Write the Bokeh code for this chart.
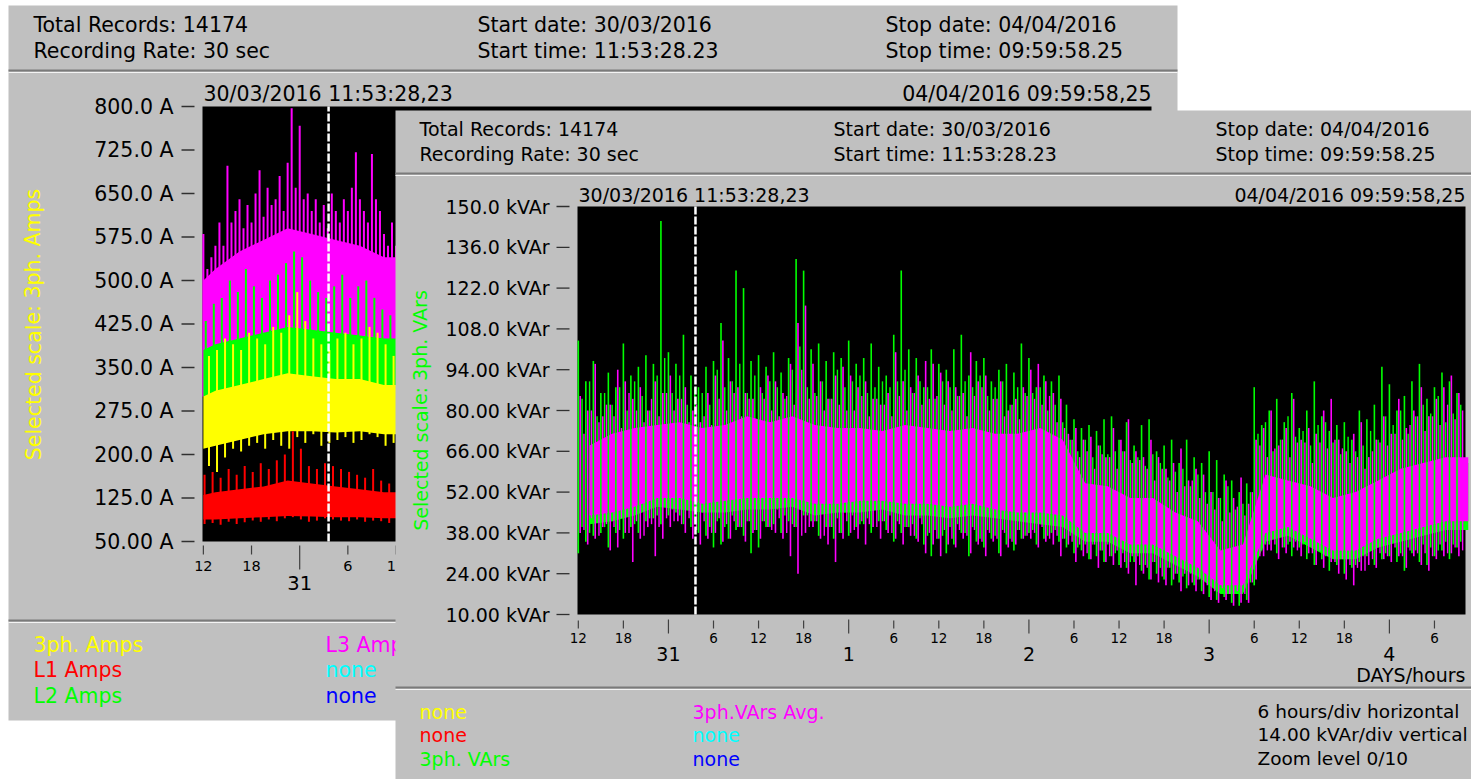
from bokeh.plotting import figure
from bokeh.models import Range1d, ColumnDataSource
from bokeh.core.properties import value
from bokeh.embed import file_html
from bokeh.resources import INLINE

# ------------------------------------------------------------------ data
# time axis: hours counted from 30/03/2016 00:00
T_START = 11 + 53 / 60 + 28.23 / 3600        # 30/03/2016 11:53:28,23
T_STOP = 5 * 24 + 9 + 59 / 60 + 58.25 / 3600  # 04/04/2016 09:59:58,25
CURSOR_T = 27.6                               # cursor position (31/03 ~03:36)

# ---- right window: 3ph. VArs (green) and 3ph.VArs Avg. (magenta), kVAr
# min/max read at each full hour (A) and each half hour (B)
R_HOURS = list(range(12, 130))
R_GREEN_HI = [104, 90, 97, 86, 93, 88, 103, 92, 95, 99, 96, 145,
              100, 96, 106, 92, 88, 95, 97, 110, 98, 128, 122, 97,
              99, 95, 100, 93, 98, 132, 128, 101, 103, 97, 100, 98,
              104, 96, 98, 103, 95, 92, 106, 128, 101, 98, 88, 101,
              96, 94, 101, 106, 92, 97, 98, 90, 94, 96, 93, 103,
              98, 88, 92, 90, 92, 82, 77, 74, 75, 73, 77, 78,
              70, 76, 68, 75, 77, 66, 68, 70, 62, 70, 64, 62,
              66, 63, 58, 56, 52, 55, 88, 75, 80, 84, 76, 86,
              74, 80, 90, 78, 73, 75, 76, 70, 80, 77, 82, 95,
              89, 80, 85, 90, 96, 84, 88, 93, 90, 86]
R_GREEN_LO = [31, 35, 37, 38, 33, 38, 36, 40, 38, 42, 43, 41,
              44, 45, 41, 40, 38, 37, 33, 34, 36, 39, 37, 31,
              33, 40, 41, 38, 42, 40, 44, 42, 37, 40, 36, 38,
              37, 40, 41, 38, 42, 39, 35, 38, 40, 36, 34, 30,
              36, 31, 34, 38, 30, 35, 33, 36, 31, 34, 32, 36,
              38, 34, 36, 38, 35, 33, 31, 32, 29, 30, 28, 30,
              27, 26, 28, 25, 22, 24, 22, 20, 21, 19, 20, 18,
              16, 15, 16, 14, 13, 15, 20, 32, 34, 31, 33, 30,
              33, 29, 27, 29, 25, 27, 24, 26, 28, 30, 27, 29,
              30, 28, 25, 31, 28, 27, 30, 32, 29, 33]
R_GREEN_HI_B = [84, 90, 78, 86, 82, 88, 80, 90, 85, 80, 92, 98,
                86, 92, 82, 88, 86, 82, 94, 88, 90, 96, 86, 92,
                86, 90, 88, 84, 94, 102, 88, 86, 90, 84, 94, 88,
                90, 92, 86, 88, 90, 88, 90, 94, 86, 90, 88, 84,
                90, 88, 85, 90, 88, 92, 85, 88, 90, 82, 88, 86,
                86, 88, 80, 82, 76, 70, 66, 70, 64, 68, 65, 66,
                66, 63, 64, 61, 65, 62, 57, 59, 60, 54, 58, 52,
                52, 50, 54, 46, 48, 52, 72, 76, 66, 70, 78, 71,
                73, 68, 75, 76, 69, 65, 71, 66, 68, 73, 70, 78,
                75, 80, 72, 78, 82, 79, 85, 76, 79, 82]
R_GREEN_LO_B = [40, 38, 44, 40, 42, 39, 44, 41, 46, 43, 44, 47,
                46, 44, 47, 41, 45, 40, 42, 40, 44, 40, 42, 39,
                42, 40, 46, 44, 41, 46, 44, 42, 45, 40, 43, 45,
                44, 41, 43, 46, 42, 44, 42, 40, 41, 43, 37, 39,
                37, 40, 41, 38, 40, 36, 39, 37, 39, 36, 39, 37,
                39, 41, 37, 39, 36, 37, 33, 34, 34, 32, 34, 31,
                31, 28, 30, 27, 28, 26, 26, 24, 23, 24, 22, 22,
                20, 18, 19, 19, 18, 21, 31, 34, 36, 37, 34, 35,
                34, 34, 32, 30, 31, 29, 30, 27, 30, 32, 33, 31,
                35, 31, 33, 32, 34, 33, 32, 35, 34, 35]
R_MAG_HI = [85, 80, 96, 78, 82, 94, 90, 84, 88, 80, 90, 86,
            92, 84, 88, 80, 76, 86, 92, 104, 90, 88, 86, 84,
            88, 92, 90, 86, 96, 110, 116, 96, 90, 84, 92, 95,
            92, 88, 90, 84, 82, 86, 100, 90, 88, 92, 97, 96,
            93, 90, 88, 86, 100, 90, 92, 84, 90, 80, 84, 88,
            94, 96, 90, 86, 84, 72, 74, 70, 71, 68, 64, 74,
            70, 77, 66, 64, 70, 64, 60, 62, 67, 56, 60, 58,
            52, 50, 56, 50, 57, 48, 70, 74, 80, 68, 74, 84,
            70, 74, 72, 80, 84, 70, 66, 72, 76, 64, 70, 78,
            72, 84, 74, 80, 88, 78, 84, 88, 92, 86]
R_MAG_LO = [38, 34, 36, 40, 32, 33, 38, 28, 36, 40, 30, 36,
            40, 42, 38, 36, 34, 36, 38, 35, 36, 40, 35, 38,
            36, 40, 38, 36, 30, 24, 38, 40, 36, 34, 28, 36,
            38, 36, 34, 40, 36, 38, 36, 34, 37, 35, 31, 34,
            30, 34, 33, 36, 31, 34, 30, 35, 30, 33, 34, 36,
            36, 33, 35, 34, 30, 34, 28, 30, 29, 26, 28, 27,
            26, 24, 20, 24, 22, 21, 20, 22, 18, 20, 18, 17,
            15, 14, 15, 13, 14, 14, 22, 30, 32, 29, 31, 33,
            30, 31, 27, 26, 28, 24, 22, 20, 25, 27, 26, 29,
            28, 30, 26, 30, 27, 25, 29, 30, 31, 30]
R_MAG_HI_B = [72, 80, 76, 82, 78, 74, 86, 80, 76, 84, 78, 86,
              80, 84, 76, 82, 78, 75, 84, 80, 86, 78, 84, 77,
              84, 80, 78, 85, 82, 94, 84, 85, 80, 84, 82, 80,
              80, 85, 78, 84, 82, 78, 85, 80, 86, 82, 84, 85,
              82, 80, 85, 78, 85, 88, 80, 84, 78, 82, 77, 85,
              84, 82, 85, 76, 74, 70, 64, 66, 60, 65, 64, 60,
              66, 62, 63, 60, 56, 60, 56, 52, 54, 56, 50, 48,
              46, 42, 45, 47, 44, 52, 68, 64, 67, 70, 64, 69,
              69, 62, 69, 67, 70, 67, 62, 64, 60, 66, 69, 68,
              72, 70, 75, 78, 73, 78, 75, 82, 77, 80]
R_MAG_LO_B = [39, 43, 37, 41, 40, 43, 38, 42, 37, 41, 40, 43,
              42, 41, 43, 39, 42, 38, 43, 41, 42, 40, 42, 39,
              42, 39, 43, 38, 40, 37, 40, 42, 37, 40, 38, 42,
              39, 42, 41, 40, 42, 38, 41, 40, 37, 41, 38, 36,
              39, 36, 39, 37, 39, 35, 38, 36, 38, 35, 39, 37,
              38, 40, 36, 37, 36, 35, 34, 31, 34, 32, 30, 32,
              28, 30, 27, 26, 28, 23, 26, 24, 24, 21, 22, 20,
              18, 19, 17, 18, 17, 21, 30, 32, 34, 33, 35, 32,
              35, 31, 32, 30, 28, 29, 27, 26, 25, 29, 31, 30,
              33, 30, 32, 31, 31, 30, 34, 31, 33, 32]
# dense core band, 3-hour buckets (centre times)
R_CORE_T = [13.5 + 3 * i for i in range(40)]
R_MAG_CORE_LO = [44, 45, 47, 50, 50, 48, 49, 50, 50, 50, 48, 48, 49, 49, 48, 48, 47, 48, 46, 45,
                 45, 44, 38, 38, 34, 34, 30, 26, 20, 20, 38, 40, 36, 32, 32, 36, 38, 40, 42, 42]
R_MAG_CORE_HI = [68, 72, 74, 75, 76, 74, 75, 78, 76, 78, 75, 74, 74, 73, 75, 74, 73, 74, 72, 72,
                 74, 70, 55, 54, 50, 50, 45, 42, 32, 34, 58, 56, 54, 50, 52, 56, 60, 62, 64, 64]
R_GREEN_CORE_LO = [41, 42, 44, 47, 46, 45, 45, 46, 46, 47, 44, 45, 45, 46, 44, 44, 43, 44, 43, 42,
                   41, 40, 35, 35, 31, 31, 27, 23, 17, 17, 35, 37, 33, 29, 29, 33, 35, 37, 39, 39]
R_GREEN_CORE_HI = [66, 70, 72, 73, 74, 72, 73, 76, 74, 76, 73, 72, 72, 71, 73, 72, 71, 72, 70, 70,
                   72, 68, 53, 52, 48, 48, 43, 40, 30, 32, 56, 54, 52, 48, 50, 54, 58, 60, 62, 62]

R_Y_TICKS = [150, 136, 122, 108, 94, 80, 66, 52, 38, 24, 10]
R_Y_LABELS = ["150.0 kVAr", "136.0 kVAr", "122.0 kVAr", "108.0 kVAr", "94.00 kVAr", "80.00 kVAr",
              "66.00 kVAr", "52.00 kVAr", "38.00 kVAr", "24.00 kVAr", "10.00 kVAr"]

# ---- left window: currents (A); only the first day is visible
L3_T = [12 + 0.5 * i for i in range(49)]
L3_HI = [580, 520, 540, 560, 600, 560, 698, 600, 620, 640,
         590, 630, 600, 650, 690, 610, 660, 630, 640, 680,
         620, 703, 797, 660, 767, 640, 650, 620, 640, 600,
         630, 590, 650, 620, 600, 640, 620, 660, 721, 640,
         620, 600, 718, 640, 620, 580, 560, 600, 560]
L3_LO = [300, 310, 305, 320, 315, 330, 320, 325, 335, 330,
         340, 330, 345, 335, 340, 350, 345, 335, 340, 350,
         345, 340, 335, 345, 340, 330, 345, 335, 340, 350,
         345, 330, 335, 340, 345, 335, 340, 330, 345, 340,
         335, 330, 340, 325, 330, 320, 325, 320, 320]
L_HOURS = list(range(12, 37))
L2_HI = [430, 460, 470, 500, 480, 520, 490, 470, 500, 510, 530, 550, 540,
         500, 480, 470, 490, 510, 470, 490, 500, 470, 450, 440, 440]
L2_LO = [285, 295, 300, 310, 305, 300, 310, 320, 305, 310, 300, 320, 315,
         310, 300, 305, 310, 300, 315, 300, 305, 310, 300, 295, 295]
PH3_HI = [370, 380, 400, 390, 380, 410, 400, 390, 420, 410, 440, 480, 430,
          400, 390, 380, 400, 410, 390, 400, 420, 410, 390, 370, 370]
PH3_LO = [180, 170, 195, 210, 205, 215, 220, 210, 225, 215, 210, 230, 220,
          235, 215, 220, 225, 230, 220, 225, 235, 230, 215, 220, 220]
L1_HI = [165, 170, 160, 175, 165, 180, 170, 185, 175, 190, 200, 240, 210,
         180, 175, 185, 180, 175, 170, 165, 160, 175, 155, 150, 150]
L1_LO = [80, 82, 79, 84, 80, 83, 86, 84, 88, 85, 90, 92, 88,
         84, 86, 90, 88, 86, 85, 88, 84, 86, 85, 82, 82]
L_CORE_T = [12, 13.5, 16.5, 19.5, 22.5, 25.5, 28.5, 31.5, 34.5, 37.5]
L3_CORE_LO = [330, 330, 340, 350, 360, 360, 355, 350, 340, 340]
L3_CORE_HI = [500, 520, 550, 570, 590, 580, 570, 560, 540, 540]
L2_CORE_LO = [300, 300, 310, 320, 325, 325, 320, 320, 315, 315]
L2_CORE_HI = [380, 390, 400, 410, 420, 415, 410, 405, 400, 400]
PH3_CORE_LO = [210, 215, 225, 235, 240, 240, 238, 240, 235, 235]
PH3_CORE_HI = [300, 310, 320, 330, 340, 335, 330, 330, 320, 320]
L1_CORE_LO = [88, 88, 90, 92, 94, 93, 92, 92, 90, 90]
L1_CORE_HI = [130, 135, 140, 145, 155, 150, 145, 140, 135, 135]

L_Y_TICKS = [800, 725, 650, 575, 500, 425, 350, 275, 200, 125, 50]
L_Y_LABELS = ["800.0 A", "725.0 A", "650.0 A", "575.0 A", "500.0 A", "425.0 A",
              "350.0 A", "275.0 A", "200.0 A", "125.0 A", "50.00 A"]

HOUR_TICKS = [12, 18, 30, 36, 42, 54, 60, 66, 78, 84, 90, 102, 108, 114, 126]
HOUR_LABELS = ["12", "18", "6", "12", "18", "6", "12", "18", "6", "12", "18", "6", "12", "18", "6"]
DAY_TICKS = [24, 48, 72, 96, 120]
DAY_LABELS = ["31", "1", "2", "3", "4"]

YELLOW, RED, GREEN, MAGENTA, CYAN, BLUE = "#FFFF00", "#FF0000", "#00FF00", "#FF00FF", "#00FFFF", "#0000FF"
GREY = "#C0C0C0"
FONT = "DejaVu Sans"

# ------------------------------------------------------------------ geometry (screen px)
W, H = 1471, 779
X_MIN, X_MAX = 0, W
Y_MIN, Y_MAX = 0, H

# left chart plot box
LX0, LX1, LY_TOP, LY_BOT, LV_TOP, LV_BOT = 202, 1150, 106, 541, 800, 50
# right chart plot box
RX0, RX1, RY_TOP, RY_BOT, RV_TOP, RV_BOT = 577, 1464, 206, 614, 150, 10


def x_range_for(px0, px1):
    s = (px1 - px0) / (T_STOP - T_START)
    return Range1d(start=T_START - (px0 - X_MIN) / s, end=T_STOP + (X_MAX - px1) / s)


def y_range_for(py_top, py_bot, v_top, v_bot):
    s = (py_bot - py_top) / (v_top - v_bot)
    return Range1d(start=v_bot - (Y_MAX - py_bot) / s, end=v_top + (py_top - Y_MIN) / s)


p = figure(width=W, height=H, x_range=Range1d(X_MIN, X_MAX), y_range=Range1d(Y_MAX, Y_MIN),
           x_axis_type=None, y_axis_type=None, toolbar_location=None, output_backend="svg",
           min_border=0, outline_line_color=None, background_fill_color="white",
           border_fill_color="white")
p.extra_x_ranges = {"lx": x_range_for(LX0, LX1), "rx": x_range_for(RX0, RX1)}
p.extra_y_ranges = {"ly": y_range_for(LY_TOP, LY_BOT, LV_TOP, LV_BOT),
                    "ry": y_range_for(RY_TOP, RY_BOT, RV_TOP, RV_BOT)}


def txt(xs, ys, texts, size, color="#000000", align="left", angle=0.0, xr="default", yr="default"):
    n = len(texts)
    cols = color if isinstance(color, list) else [color] * n
    src = ColumnDataSource(dict(x=list(xs), y=list(ys), t=list(texts), c=cols))
    p.text(x="x", y="y", text="t", text_color="c", source=src, text_font=value(FONT),
           text_font_size=value(f"{size}px"), text_align=align, text_baseline="middle",
           angle=angle, x_range_name=xr, y_range_name=yr)


def rect(l, r, t, b, color):
    p.quad(left=[l], right=[r], top=[t], bottom=[b], fill_color=color, line_color=None)


def hline(x0, x1, y):
    p.segment(x0=[x0], x1=[x1], y0=[y], y1=[y], line_color="#7A7A7A", line_width=2)
    p.segment(x0=[x0], x1=[x1], y0=[y + 2], y1=[y + 2], line_color="#F4F4F4", line_width=1)


def core(t, lo, hi, color, xr, yr):
    p.varea(x=t, y1=lo, y2=hi, fill_color=color, x_range_name=xr, y_range_name=yr)


def spikes(times, hi, lo, color, off, lw, xr, yr):
    xs = [h + off for h in times]
    p.segment(x0=xs, x1=xs, y0=lo, y1=hi, line_color=color, line_width=lw,
              x_range_name=xr, y_range_name=yr)


def header(x0, xs, y1, y2, size):
    txt([x0, x0, xs[0], xs[0], xs[1], xs[1]], [y1, y2, y1, y2, y1, y2],
        ["Total Records: 14174", "Recording Rate: 30 sec",
         "Start date: 30/03/2016", "Start time: 11:53:28.23",
         "Stop date: 04/04/2016", "Stop time: 09:59:58.25"], size)


def time_axis(xr, hy0, hy1, dy0, dy1, hl_y, dl_y, hsize, dsize):
    p.segment(x0=HOUR_TICKS, x1=HOUR_TICKS, y0=[hy0] * len(HOUR_TICKS), y1=[hy1] * len(HOUR_TICKS),
              line_color="#404040", line_width=1.2, x_range_name=xr)
    p.segment(x0=DAY_TICKS, x1=DAY_TICKS, y0=[dy0] * len(DAY_TICKS), y1=[dy1] * len(DAY_TICKS),
              line_color="#404040", line_width=1.2, x_range_name=xr)
    txt(HOUR_TICKS, [hl_y] * len(HOUR_TICKS), HOUR_LABELS, hsize, align="center", xr=xr)
    txt(DAY_TICKS, [dl_y] * len(DAY_TICKS), DAY_LABELS, dsize, align="center", xr=xr)


# ================================================================== LEFT WINDOW
rect(8, 1177, 5, 720, GREY)
header(33, [477, 885], 24, 50, 20.5)
hline(8, 1177, 70)
txt([203], [93], ["30/03/2016 11:53:28,23"], 20.5)
txt([1151], [93], ["04/04/2016 09:59:58,25"], 20.5, align="right")
rect(LX0, LX1 + 1, LY_TOP, LY_BOT, "#000000")
core(L_CORE_T, L3_CORE_LO, L3_CORE_HI, MAGENTA, "lx", "ly")
spikes(L3_T, L3_HI, L3_LO, MAGENTA, 0.0, 2.0, "lx", "ly")
core(L_CORE_T, L2_CORE_LO, L2_CORE_HI, GREEN, "lx", "ly")
spikes(L_HOURS, L2_HI, L2_LO, GREEN, 0.3, 2.0, "lx", "ly")
core(L_CORE_T, PH3_CORE_LO, PH3_CORE_HI, YELLOW, "lx", "ly")
spikes(L_HOURS, PH3_HI, PH3_LO, YELLOW, 0.7, 2.0, "lx", "ly")
core(L_CORE_T, L1_CORE_LO, L1_CORE_HI, RED, "lx", "ly")
spikes(L_HOURS, L1_HI, L1_LO, RED, 0.15, 2.0, "lx", "ly")
p.segment(x0=[CURSOR_T], x1=[CURSOR_T], y0=[LV_BOT], y1=[LV_TOP], line_color="white",
          line_width=2.5, line_dash="8 2", x_range_name="lx", y_range_name="ly")
# y axis
p.segment(x0=[181] * len(L_Y_TICKS), x1=[194] * len(L_Y_TICKS), y0=L_Y_TICKS, y1=L_Y_TICKS,
          line_color="#303030", line_width=1.3, y_range_name="ly")
txt([173] * len(L_Y_TICKS), L_Y_TICKS, L_Y_LABELS, 20.5, align="right", yr="ly")
txt([33], [324], ["Selected scale: 3ph. Amps"], 20.5, color=YELLOW, align="center", angle=1.5708)
time_axis("lx", 545, 554, 545, 569, 565, 582, 14.5, 19.5)
hline(8, 1177, 620)
txt([33, 33, 33, 325, 325, 325], [644, 669, 695, 644, 669, 695],
    ["3ph. Amps", "L1 Amps", "L2 Amps", "L3 Amps", "none", "none"], 20.5,
    color=[YELLOW, RED, GREEN, MAGENTA, CYAN, BLUE])

# ================================================================== RIGHT WINDOW
rect(395, X_MAX, 110, Y_MAX, GREY)
header(419, [833, 1215], 128, 153, 19)
hline(395, X_MAX, 173)
txt([578], [194], ["30/03/2016 11:53:28,23"], 19)
txt([1465], [194], ["04/04/2016 09:59:58,25"], 19, align="right")
rect(RX0, RX1 + 1, RY_TOP, RY_BOT, "#000000")
core(R_CORE_T, R_GREEN_CORE_LO, R_GREEN_CORE_HI, GREEN, "rx", "ry")
spikes(R_HOURS, R_GREEN_HI_B, R_GREEN_LO_B, GREEN, 0.5, 1.4, "rx", "ry")
core(R_CORE_T, R_MAG_CORE_LO, R_MAG_CORE_HI, MAGENTA, "rx", "ry")
spikes(R_HOURS, R_MAG_HI, R_MAG_LO, MAGENTA, 0.25, 1.6, "rx", "ry")
spikes(R_HOURS, R_MAG_HI_B, R_MAG_LO_B, MAGENTA, 0.75, 1.4, "rx", "ry")
spikes(R_HOURS, R_GREEN_HI, R_GREEN_LO, GREEN, 0.0, 1.6, "rx", "ry")
p.segment(x0=[CURSOR_T], x1=[CURSOR_T], y0=[RV_BOT], y1=[RV_TOP], line_color="white",
          line_width=2.5, line_dash="8 2", x_range_name="rx", y_range_name="ry")
# y axis
p.segment(x0=[556] * len(R_Y_TICKS), x1=[569] * len(R_Y_TICKS), y0=R_Y_TICKS, y1=R_Y_TICKS,
          line_color="#303030", line_width=1.3, y_range_name="ry")
txt([549] * len(R_Y_TICKS), R_Y_TICKS, R_Y_LABELS, 19, align="right", yr="ry")
txt([420], [410], ["Selected scale: 3ph. VArs"], 19, color=GREEN, align="center", angle=1.5708)
time_axis("rx", 620, 628, 619, 633, 637, 653, 13.5, 19)
txt([1465], [674], ["DAYS/hours"], 19, align="right")
hline(395, X_MAX, 687)
txt([419, 419, 419, 692, 692, 692], [711, 734, 758, 711, 734, 758],
    ["none", "none", "3ph. VArs", "3ph.VArs Avg.", "none", "none"], 19,
    color=[YELLOW, RED, GREEN, MAGENTA, CYAN, BLUE])
txt([1257, 1257, 1257], [711, 734, 758],
    ["6 hours/div horizontal", "14.00 kVAr/div vertical", "Zoom level 0/10"], 18.5)

open("out.html", "w").write(file_html(p, INLINE))
